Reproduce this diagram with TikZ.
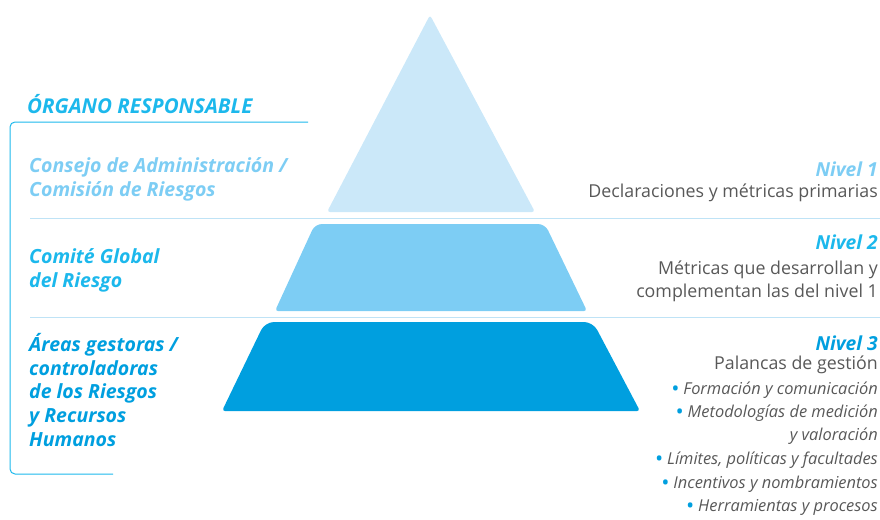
\documentclass[tikz,border=0pt]{standalone}
\usepackage{fontspec}
\setmainfont{Open Sans}
\definecolor{tri1}{HTML}{CBE8F9}
\definecolor{tri2}{HTML}{7DCDF4}
\definecolor{tri3}{HTML}{009FDF}
\definecolor{cyanhead}{HTML}{1CB8EC}
\definecolor{sepline}{HTML}{BFE3F6}
\definecolor{graytext}{HTML}{585858}
\tikzset{
  lefthead/.style={inner sep=0pt, anchor=base west, font=\fontsize{19.5}{22}\selectfont\bfseries\itshape},
  righthead/.style={inner sep=0pt, anchor=base east, font=\fontsize{19.3}{22}\selectfont\bfseries\itshape},
  righttext/.style={inner sep=0pt, anchor=base east, text=graytext, font=\fontsize{17.8}{21}\selectfont},
  bullettext/.style={inner sep=0pt, anchor=base east, text=graytext, font=\fontsize{16.4}{19}\selectfont\itshape},
  sep/.style={draw=sepline, line width=0.9pt},
  bracket/.style={draw=cyanhead, line width=1pt, rounded corners=5pt}
}
\newcommand{\bl}{{\color{tri3}\raisebox{-2.2pt}{\scalebox{1.35}{\textbullet}}}\ }
\begin{document}
\begin{tikzpicture}[x=1pt,y=-1pt]
\useasboundingbox (0,0) rectangle (880,519);
% separators
\coordinate (s1a) at (30,218); \coordinate (s1b) at (880,218);
\coordinate (s2a) at (30,317); \coordinate (s2b) at (880,317);
\draw[sep] (s1a) -- (s1b);
\draw[sep] (s2a) -- (s2b);
% bracket
\coordinate (bt) at (308,122); \coordinate (btl) at (10,122);
\coordinate (bbl) at (10,474); \coordinate (bb) at (113,474);
\draw[bracket] (bt) -- (btl) -- (bbl) -- (bb);
% pyramid
\fill[tri1, rounded corners=3pt] (430,15) -- (535,212) -- (327,212) -- cycle;
\fill[tri2, rounded corners=7pt] (315,224) -- (545,224) [rounded corners=3pt] -- (587,311) -- (275,311) [rounded corners=7pt] -- cycle;
\fill[tri3, rounded corners=9pt] (265,322) -- (593,322) [rounded corners=3pt] -- (640,411) -- (222,411) [rounded corners=9pt] -- cycle;
% left labels
\node[lefthead, text=cyanhead, font=\fontsize{20.5}{23}\selectfont\bfseries\itshape] (org) at (27,113) {ÓRGANO RESPONSABLE};
\node[lefthead, text=tri2] (l1a) at (29,172) {Consejo de Administración /};
\node[lefthead, text=tri2] (l1b) at (29,196) {Comisión de Riesgos};
\node[lefthead, text=cyanhead] (l2a) at (29,263) {Comité Global};
\node[lefthead, text=cyanhead] (l2b) at (29,287) {del Riesgo};
\node[lefthead, text=tri3] (l3a) at (29,351) {Áreas gestoras /};
\node[lefthead, text=tri3] (l3b) at (29,375) {controladoras};
\node[lefthead, text=tri3] (l3c) at (29,398) {de los Riesgos};
\node[lefthead, text=tri3] (l3d) at (29,422) {y Recursos};
\node[lefthead, text=tri3] (l3e) at (29,446) {Humanos};
% right labels
\node[righthead, text=tri2] (n1) at (878,176) {Nivel 1};
\node[righttext] (n1a) at (878,197) {Declaraciones y métricas primarias};
\node[righthead, text=cyanhead] (n2) at (878,249) {Nivel 2};
\node[righttext] (n2a) at (878,274) {Métricas que desarrollan y};
\node[righttext] (n2b) at (878,297) {complementan las del nivel 1};
\node[righthead, text=tri3] (n3) at (878,350) {Nivel 3};
\node[righttext] (n3a) at (878,369) {Palancas de gestión};
\node[bullettext] (b1) at (878,394) {\bl Formación y comunicación};
\node[bullettext] (b2) at (878,417) {\bl Metodologías de medición};
\node[bullettext] (b2b) at (878,440) {y valoración};
\node[bullettext] (b3) at (878,464) {\bl Límites, políticas y facultades};
\node[bullettext] (b4) at (878,488) {\bl Incentivos y nombramientos};
\node[bullettext] (b5) at (878,511) {\bl Herramientas y procesos};
\end{tikzpicture}
\end{document}
